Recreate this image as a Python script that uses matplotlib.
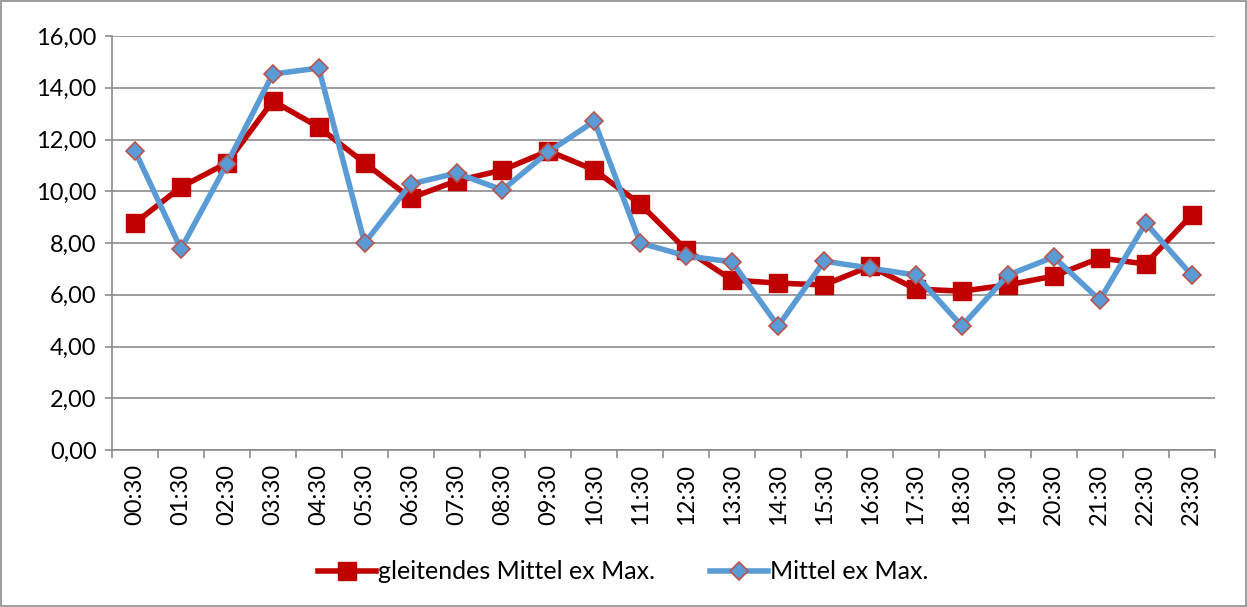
import matplotlib.pyplot as plt
import numpy as np
from matplotlib.patches import Rectangle

plt.rcParams['font.family'] = ['Lato', 'DejaVu Sans']

# Zeitpunkte (Kategorien)
zeiten = ['%02d:30' % h for h in range(24)]

# gleitendes Mittel ex Max.
gleitend = [8.77, 10.16, 11.09, 13.49, 12.48, 11.09, 9.74, 10.40, 10.82, 11.56, 10.82, 9.50,
            7.73, 6.57, 6.45, 6.38, 7.10, 6.22, 6.14, 6.38, 6.72, 7.42, 7.19, 9.08]

# Mittel ex Max.
mittel = [11.56, 7.77, 11.05, 14.53, 14.76, 8.00, 10.28, 10.70, 10.05, 11.52, 12.71, 8.00,
          7.50, 7.27, 4.79, 7.30, 7.03, 6.76, 4.79, 6.76, 7.46, 5.80, 8.77, 6.76]

farbe_rot = '#C00000'
farbe_blau = '#5B9BD5'
farbe_gitter = '#8C8C8C'

fig = plt.figure(figsize=(12.47, 6.07), dpi=100)
ax = fig.add_axes([0.0898, 0.2586, 0.8842, 0.6821])

x = np.arange(len(zeiten))
ax.plot(x, gleitend, color=farbe_rot, lw=4, marker='s', ms=13,
        mfc=farbe_rot, mec=farbe_rot, label='gleitendes Mittel ex Max.', zorder=3)
ax.plot(x, mittel, color=farbe_blau, lw=4, marker='D', ms=9,
        mfc=farbe_blau, mec='#B85450', mew=1.2, label='Mittel ex Max.', zorder=4)

ax.set_xlim(-0.5, len(zeiten) - 0.5)
ax.set_ylim(0, 16)
yt = np.arange(0, 17, 2)
ax.set_yticks(yt)
ax.set_yticklabels([('%.2f' % v).replace('.', ',') for v in yt], fontsize=17)
ax.yaxis.set_tick_params(length=5, color=farbe_gitter, width=1.2, pad=6)
ax.yaxis.grid(True, color=farbe_gitter, lw=1.2)

ax.set_xticks(x)
ax.set_xticklabels(zeiten, rotation=90, fontsize=17)
ax.xaxis.set_tick_params(which='major', length=0, pad=10)
ax.set_xticks(np.arange(-0.5, len(zeiten), 1), minor=True)
ax.xaxis.set_tick_params(which='minor', length=6, color=farbe_gitter, width=1.2)

for s in ['top', 'right']:
    ax.spines[s].set_visible(False)
ax.spines['left'].set_color(farbe_gitter)
ax.spines['bottom'].set_color(farbe_gitter)
ax.spines['left'].set_linewidth(1.2)
ax.spines['bottom'].set_linewidth(1.2)
ax.set_axisbelow(True)

fig.legend(loc='center', bbox_to_anchor=(0.5, 0.058), ncol=2, frameon=False,
           fontsize=18, handlelength=2.3, columnspacing=2.2, handletextpad=0.1)

# Rahmen um das Diagramm
fig.patches.append(Rectangle((0.001, 0.001), 0.998, 0.998, transform=fig.transFigure,
                             fill=False, ec='#8C8C8C', lw=1.2))

plt.savefig('out.png', dpi=100)
